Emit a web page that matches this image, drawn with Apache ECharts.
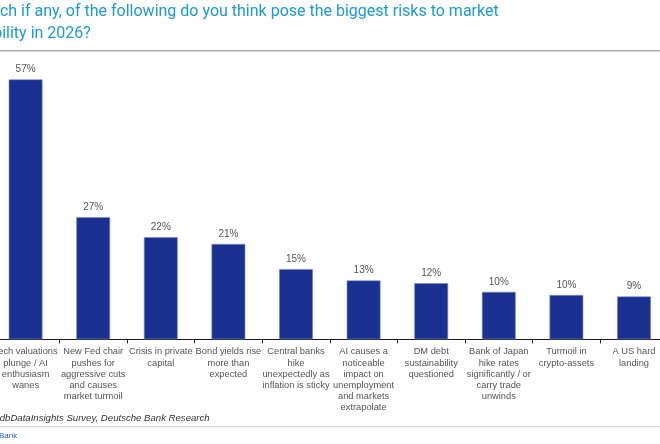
<!DOCTYPE html>
<html><head><meta charset="utf-8">
<script src="https://cdn.jsdelivr.net/npm/echarts@6/dist/echarts.min.js"></script>
<style>html,body{margin:0;padding:0;background:#fff;overflow:hidden}#c{width:660px;height:444px}</style>
</head><body><div id="c"></div>
<script>
const categories = [
  "Tech valuations\nplunge / AI\nenthusiasm\nwanes",
  "New Fed chair\npushes for\naggressive cuts\nand causes\nmarket turmoil",
  "Crisis in private\ncapital",
  "Bond yields rise\nmore than\nexpected",
  "Central banks\nhike\nunexpectedly as\ninflation is sticky",
  "AI causes a\nnoticeable\nimpact on\nunemployment\nand markets\nextrapolate",
  "DM debt\nsustainability\nquestioned",
  "Bank of Japan\nhike rates\nsignificantly / or\ncarry trade\nunwinds",
  "Turmoil in\ncrypto-assets",
  "A US hard\nlanding"
];
const values = [57, 26.8, 22.4, 20.9, 15.4, 12.9, 12.3, 10.4, 9.7, 9.4];
const titleLines = [
  "Which if any, of the following do you think pose the biggest risks to market",
  "stability in 2026?"
];
const sourceText = "Source: dbDataInsights Survey, Deutsche Bank Research";
const footerText = "Deutsche Bank";

const chart = echarts.init(document.getElementById('c'), null, {renderer: 'canvas'});
chart.setOption({
  animation: false,
  backgroundColor: '#fff',
  grid: {left: -8.2, right: -7.8, top: 65.7, bottom: 104.7, containLabel: false, outerBoundsMode: 'none'},
  xAxis: {
    type: 'category', data: categories,
    axisLine: {lineStyle: {color: '#1a1a1a', width: 1}},
    axisTick: {show: true, length: 4, lineStyle: {color: '#1a1a1a'}},
    axisLabel: {interval: 0, fontSize: 9.3, color: '#555', lineHeight: 11.2, margin: 7, fontFamily: 'Arial, Liberation Sans', hideOverlap: false}
  },
  yAxis: {type: 'value', min: 0, max: 60, show: false, splitLine: {show: false}},
  series: [{
    type: 'bar', data: values, barCategoryGap: '50%',
    itemStyle: {color: '#1b3191', borderColor: '#7f8dc6', borderWidth: 0.6},
    label: {show: true, position: 'top', distance: 5, fontSize: 10, color: '#555', fontFamily: 'Arial, Liberation Sans',
      formatter: p => Math.round(p.value) + '%'}
  }],
  graphic: [
    {type: 'text', left: -27, top: 4, style: {text: titleLines[0], fontSize: 16, fill: '#1a9ad6', fontFamily: 'Roboto'}},
    {type: 'text', left: -29, top: 26, style: {text: titleLines[1], fontSize: 16, fill: '#1a9ad6', fontFamily: 'Roboto'}},
    {type: 'rect', shape: {x: 0, y: 50, width: 660, height: 1.5}, style: {fill: '#aaa'}},
    {type: 'text', left: -36, top: 413.5, style: {text: sourceText, fontSize: 9.6, fontStyle: 'italic', fill: '#333', fontFamily: 'Arial, Liberation Sans'}},
    {type: 'rect', shape: {x: 0, y: 426, width: 660, height: 1.2}, style: {fill: '#d4d6dc'}},
    {type: 'text', left: -37, top: 432, style: {text: footerText, fontSize: 8, fill: '#1a6ab0', fontFamily: 'Arial, Liberation Sans'}}
  ]
});
</script></body></html>
